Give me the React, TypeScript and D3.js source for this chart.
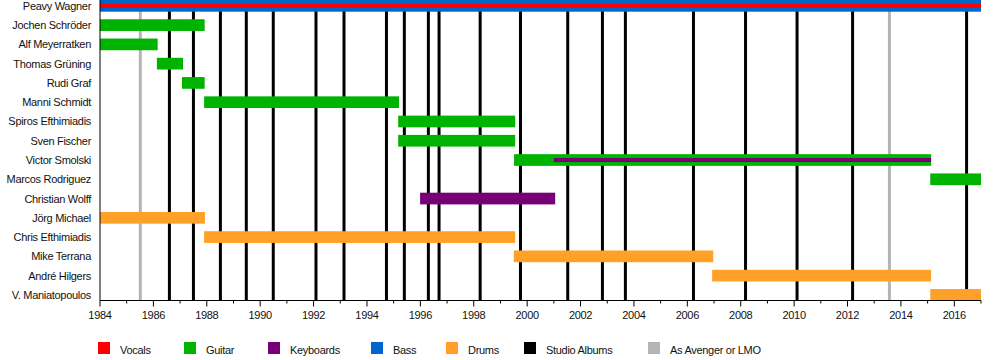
import React from "react";
import * as d3 from "d3";

const members = [
  "Peavy Wagner",
  "Jochen Schröder",
  "Alf Meyerratken",
  "Thomas Grüning",
  "Rudi Graf",
  "Manni Schmidt",
  "Spiros Efthimiadis",
  "Sven Fischer",
  "Victor Smolski",
  "Marcos Rodriguez",
  "Christian Wolff",
  "Jörg Michael",
  "Chris Efthimiadis",
  "Mike Terrana",
  "André Hilgers",
  "V. Maniatopoulos",
];

type Seg = { member: string; start: number; end: number; role: string; thin?: boolean };

const segments: Seg[] = [
  { member: "Peavy Wagner", start: 1984, end: 2017, role: "Bass" },
  { member: "Peavy Wagner", start: 1984, end: 2017, role: "Vocals", thin: true },
  { member: "Jochen Schröder", start: 1984, end: 1987.92, role: "Guitar" },
  { member: "Alf Meyerratken", start: 1984, end: 1986.16, role: "Guitar" },
  { member: "Thomas Grüning", start: 1986.13, end: 1987.11, role: "Guitar" },
  { member: "Rudi Graf", start: 1987.07, end: 1987.92, role: "Guitar" },
  { member: "Manni Schmidt", start: 1987.9, end: 1995.2, role: "Guitar" },
  { member: "Spiros Efthimiadis", start: 1995.17, end: 1999.55, role: "Guitar" },
  { member: "Sven Fischer", start: 1995.17, end: 1999.55, role: "Guitar" },
  { member: "Victor Smolski", start: 1999.51, end: 2015.13, role: "Guitar" },
  { member: "Victor Smolski", start: 2001.0, end: 2015.13, role: "Keyboards", thin: true },
  { member: "Marcos Rodriguez", start: 2015.1, end: 2017, role: "Guitar" },
  { member: "Christian Wolff", start: 1995.99, end: 2001.05, role: "Keyboards" },
  { member: "Jörg Michael", start: 1984, end: 1987.93, role: "Drums" },
  { member: "Chris Efthimiadis", start: 1987.9, end: 1999.55, role: "Drums" },
  { member: "Mike Terrana", start: 1999.5, end: 2006.97, role: "Drums" },
  { member: "André Hilgers", start: 2006.93, end: 2015.13, role: "Drums" },
  { member: "V. Maniatopoulos", start: 2015.1, end: 2017, role: "Drums" },
];

const studioAlbums = [
  1986.6, 1987.5, 1988.51, 1989.48, 1990.49, 1992.09, 1993.14, 1994.73, 1995.4,
  1996.3, 1996.7, 1998.24, 1999.75, 2001.52, 2002.82, 2003.68, 2006.23, 2008.18,
  2010.11, 2012.19, 2016.46,
];
const otherReleases = [1985.51, 2013.57];

const legendItems = [
  "Vocals",
  "Guitar",
  "Keyboards",
  "Bass",
  "Drums",
  "Studio Albums",
  "As Avenger or LMO",
];
const legendX = [98, 184, 268, 371, 446, 524, 648];

const colors: Record<string, string> = {
  Vocals: "#ff0000",
  Guitar: "#00b300",
  Keyboards: "#770077",
  Bass: "#0066cc",
  Drums: "#ffa028",
  "Studio Albums": "#000000",
  "As Avenger or LMO": "#b4b4b4",
};

const startYear = 1984;
const endYear = 2017;

export default function App() {
  const x = d3.scaleLinear().domain([startYear, endYear]).range([100, 981]);
  const y = d3.scalePoint<string>().domain(members).range([5.85, 294.9]);
  const axisY = 300.5;
  const barH = 11.7;
  const thinH = 4;
  const font = "'Liberation Sans', Arial, sans-serif";
  const years = d3.range(startYear, endYear + 1);

  return (
    <svg
      width={1000}
      height={360}
      style={{ position: "absolute", left: 0, top: 0, background: "#fff" }}
      fontFamily={font}
    >
      <rect x={0} y={0} width={1000} height={360} fill="#fff" />
      {otherReleases.map((d, i) => (
        <line key={"o" + i} x1={x(d)} x2={x(d)} y1={0} y2={axisY} stroke={colors["As Avenger or LMO"]} strokeWidth={3} />
      ))}
      {studioAlbums.map((d, i) => (
        <line key={"a" + i} x1={x(d)} x2={x(d)} y1={0} y2={axisY} stroke="#000" strokeWidth={3} />
      ))}
      {segments.map((s, i) => {
        const h = s.thin ? thinH : barH;
        const cy = y(s.member)!;
        return (
          <rect
            key={"s" + i}
            x={x(s.start)}
            width={x(s.end) - x(s.start)}
            y={cy - h / 2}
            height={h}
            fill={colors[s.role]}
          />
        );
      })}
      {members.map((m) => (
        <text key={m} x={91} y={y(m)! + 4} textAnchor="end" fontSize={11} fill="#111" letterSpacing={-0.3}>
          {m}
        </text>
      ))}
      <line x1={100} x2={100} y1={0} y2={axisY} stroke="#000" strokeWidth={1} />
      <line x1={100} x2={981} y1={axisY} y2={axisY} stroke="#000" strokeWidth={1} />
      {years.map((yr) => {
        const major = (yr - startYear) % 2 === 0;
        return (
          <g key={yr}>
            <line x1={x(yr)} x2={x(yr)} y1={axisY} y2={axisY + (major ? 6 : 3)} stroke="#000" strokeWidth={1} />
            {major && (
              <text x={x(yr)} y={319} textAnchor="middle" fontSize={11} fill="#111" letterSpacing={-0.3}>
                {yr}
              </text>
            )}
          </g>
        );
      })}
      {legendItems.map((l, i) => (
        <g key={l}>
          <rect x={legendX[i]} y={342} width={12} height={12} fill={colors[l]} />
          <text x={legendX[i] + 22} y={354} fontSize={11} fill="#111" letterSpacing={-0.3}>
            {l}
          </text>
        </g>
      ))}
    </svg>
  );
}
